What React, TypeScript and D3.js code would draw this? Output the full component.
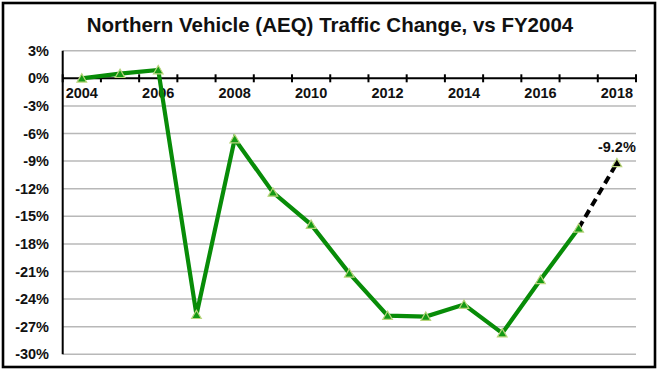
import * as d3 from "d3";

const years = ["2004", "2005", "2006", "2007", "2008", "2009", "2010", "2011", "2012", "2013", "2014", "2015", "2016", "2017", "2018"];
// % change vs FY2004
const actual = [0, 0.5, 0.9, -25.7, -6.6, -12.4, -15.9, -21.2, -25.8, -25.9, -24.6, -27.7, -21.9, -16.3];
const projected = [-16.3, -9.2];
const yTicks = [3, 0, -3, -6, -9, -12, -15, -18, -21, -24, -27, -30];
const labeledYears = ["2004", "2006", "2008", "2010", "2012", "2014", "2016", "2018"];

const W = 659;
const H = 372;
const font = "'Liberation Sans', Arial, sans-serif";

export default function App() {
  const x = d3.scaleBand().domain(years).range([62.7, 636]);
  const y = d3.scaleLinear().domain([-30, 3]).range([354.3, 50.7]);
  const cx = (yr: string) => (x(yr) ?? 0) + x.bandwidth() / 2;

  const line = d3
    .line<number>()
    .x((_, i) => cx(years[i]))
    .y((d) => y(d));
  const projLine = d3
    .line<number>()
    .x((_, i) => cx(years[actual.length - 1 + i]))
    .y((d) => y(d));

  const tri = d3.symbol().type(d3.symbolTriangle).size(40)();
  const boundaries = years.map((yr) => x(yr) ?? 0).concat([636]);
  const lastYear = years[years.length - 1];

  return (
    <div style={{ position: "fixed", left: 0, top: 0 }}>
      <svg width={W} height={H} style={{ display: "block", background: "#fff" }} fontFamily={font}>
        <rect x={3} y={3} width={652} height={364} fill="#fff" stroke="#000" strokeWidth={2.6} />
        <text x={330} y={32} textAnchor="middle" fontSize={20.5} fontWeight="bold" fill="#111">
          Northern Vehicle (AEQ) Traffic Change, vs FY2004
        </text>

        {/* gridlines */}
        {yTicks
          .filter((t) => t !== 0)
          .map((t) => (
            <line key={t} x1={62.7} x2={636} y1={y(t)} y2={y(t)} stroke="#b8b8b8" strokeWidth={1.5} />
          ))}

        {/* y labels */}
        {yTicks.map((t) => (
          <text key={t} x={49} y={y(t)} dy="0.35em" textAnchor="end" fontSize={14.5} fontWeight="bold" fill="#111">
            {`${t}%`}
          </text>
        ))}

        {/* axes */}
        <line x1={62.7} x2={62.7} y1={y(3)} y2={y(-30)} stroke="#000" strokeWidth={2} />
        <line x1={62.7} x2={636} y1={y(0)} y2={y(0)} stroke="#000" strokeWidth={2} />
        {boundaries.map((b, i) => (
          <line key={i} x1={b} x2={b} y1={y(0) - 4} y2={y(0) + 4} stroke="#000" strokeWidth={2} />
        ))}
        {labeledYears.map((yr) => (
          <text key={yr} x={cx(yr)} y={97.5} textAnchor="middle" fontSize={14.5} fontWeight="bold" fill="#111">
            {yr}
          </text>
        ))}

        {/* series */}
        <path d={projLine(projected) ?? ""} fill="none" stroke="#000" strokeWidth={4} strokeDasharray="8,5" />
        <path d={line(actual) ?? ""} fill="none" stroke="#088c08" strokeWidth={4.2} strokeLinejoin="miter" />
        {actual.map((v, i) => (
          <path
            key={years[i]}
            d={tri ?? ""}
            transform={`translate(${cx(years[i])},${y(v) + 1})`}
            fill="#149a14"
            stroke="#b9d57c"
            strokeWidth={1.2}
          />
        ))}
        <path
          d={tri ?? ""}
          transform={`translate(${cx(lastYear)},${y(projected[1]) + 1})`}
          fill="#000"
          stroke="#b9d57c"
          strokeWidth={1.2}
        />
        <text x={cx(lastYear)} y={y(projected[1]) - 11} textAnchor="middle" fontSize={14.5} fontWeight="bold" fill="#111">
          -9.2%
        </text>
      </svg>
    </div>
  );
}
